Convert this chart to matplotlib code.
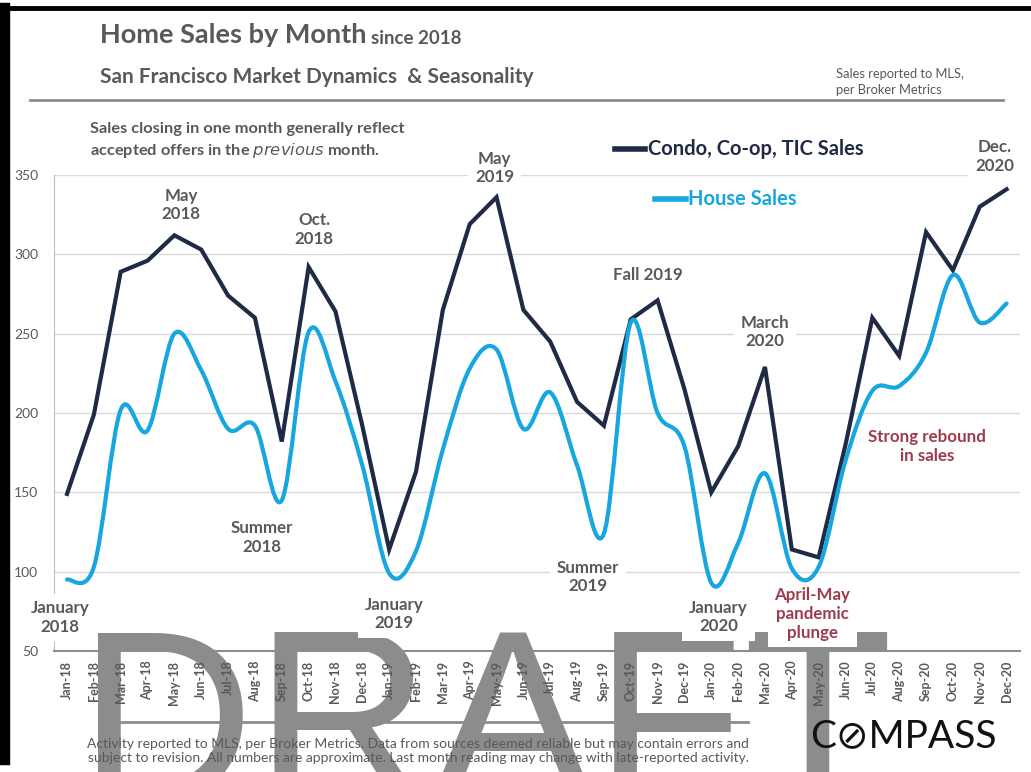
import numpy as np
import matplotlib
matplotlib.use("Agg")
import matplotlib.pyplot as plt
from matplotlib.path import Path
from matplotlib.patches import PathPatch
from matplotlib.lines import Line2D

plt.rcParams['font.family'] = ['Lato', 'DejaVu Sans']

# monthly closed sales, Jan-18 .. Dec-20
months = ["Jan-18", "Feb-18", "Mar-18", "Apr-18", "May-18", "Jun-18", "Jul-18", "Aug-18",
          "Sep-18", "Oct-18", "Nov-18", "Dec-18", "Jan-19", "Feb-19", "Mar-19", "Apr-19",
          "May-19", "Jun-19", "Jul-19", "Aug-19", "Sep-19", "Oct-19", "Nov-19", "Dec-19",
          "Jan-20", "Feb-20", "Mar-20", "Apr-20", "May-20", "Jun-20", "Jul-20", "Aug-20",
          "Sep-20", "Oct-20", "Nov-20", "Dec-20"]
condo_sales = [149, 199, 289, 296, 312, 303, 274, 260, 182, 292, 264, 192,
               114, 163, 265, 319, 336, 265, 245, 207, 192, 259, 271, 215,
               150, 179, 229, 114, 109, 180, 260, 236, 314, 290, 330, 341]
house_sales = [95, 103, 202, 189, 250, 227, 190, 192, 145, 251, 220, 167,
               99, 113, 177, 228, 240, 190, 213, 167, 124, 257, 200, 179,
               93, 118, 162, 102, 103, 170, 214, 217, 238, 287, 257, 269]
y_ticks = [50, 100, 150, 200, 250, 300, 350]

NAVY = '#1f2a44'
CYAN = '#17a6e0'
GRAY = '#595959'
RED = '#9c3b4d'


def smooth_path(xs, ys):
    # Bezier curve through every point, same kind of smoothing as a spreadsheet "smoothed line"
    pts = np.column_stack([xs, ys]).astype(float)
    n = len(pts)
    verts = [pts[0]]
    codes = [Path.MOVETO]
    for i in range(n - 1):
        p0 = pts[i - 1] if i > 0 else pts[i]
        p1 = pts[i]
        p2 = pts[i + 1]
        p3 = pts[i + 2] if i + 2 < n else pts[i + 1]
        verts += [p1 + (p2 - p0) / 6, p2 - (p3 - p1) / 6, p2]
        codes += [Path.CURVE4] * 3
    return Path(verts, codes)


W, H = 1031, 772
fig = plt.figure(figsize=(W / 100, H / 100), dpi=100)
fig.patch.set_facecolor('white')

# frame bits of the slide
fig.add_artist(Line2D([8 / W, 1], [1 - 8 / H, 1 - 8 / H], color='black', lw=3.5))
fig.add_artist(Line2D([5 / W, 5 / W], [0.015, 1 - 8 / H], color='black', lw=7.5))
fig.add_artist(Line2D([30 / W, 1003 / W], [1 - 100 / H, 1 - 100 / H], color='#8c8c8c', lw=2))
fig.add_artist(Line2D([105 / W, 748 / W], [1 - 722 / H, 1 - 722 / H], color='#8c8c8c', lw=2))

fig.text(100 / W, 1 - 35 / H, "Home Sales by Month", fontsize=19.5, fontweight='bold',
         color=GRAY, va='center', ha='left')
fig.text(371 / W, 1 - 38 / H, "since 2018", fontsize=13.5, fontweight='bold',
         color=GRAY, va='center', ha='left')
fig.text(100 / W, 1 - 77 / H, "San Francisco Market Dynamics  & Seasonality", fontsize=15,
         fontweight='bold', color=GRAY, va='center', ha='left')
fig.text(836 / W, 1 - 82 / H, "Sales reported to MLS,\nper Broker Metrics", fontsize=9.3,
         color=GRAY, va='center', ha='left', linespacing=1.3)

fig.text(90 / W, 1 - 141 / H, "Sales closing in one month generally reflect\n"
         "accepted offers in the $\\it{previous}$ month.", fontsize=11.8, fontweight='bold',
         color=GRAY, va='center', ha='left', linespacing=1.3)

fig.text(418 / W, 1 - 751 / H,
         "Activity reported to MLS, per Broker Metrics. Data from sources deemed reliable but may contain errors and\n"
         "subject to revision. All numbers are approximate. Last month reading may change with late-reported activity.",
         fontsize=10, color=GRAY, va='center', ha='center', linespacing=1.25, zorder=5)

fig.text(903 / W, 1 - 736 / H, "C\u2298MPASS", fontsize=28, color='#111111',
         va='center', ha='center', zorder=5)

# watermark sits under everything else
fig.text(78 / W, 1 - 800 / H, "DRAFT", fontsize=176, color='#8c8c8c',
         family='Liberation Sans', va='baseline', ha='left', zorder=-5)

ax = fig.add_axes([53.6 / W, 1 - 651 / H, (1020 - 53.6) / W, (651 - 175) / H])
ax.patch.set_alpha(0)
x = np.arange(len(months))

ax.plot(x, condo_sales, color=NAVY, lw=3, zorder=4, solid_joinstyle='miter')
ax.add_patch(PathPatch(smooth_path(x, house_sales), fill=False, edgecolor=CYAN,
                       lw=3, zorder=4, capstyle='round'))

ax.set_xlim(-0.5, len(months) - 0.5)
ax.set_ylim(50, 350)
ax.set_yticks(y_ticks)
ax.set_xticks(x)
ax.set_xticklabels(months, rotation=90, fontsize=9, color=GRAY, fontweight='bold')
ax.tick_params(axis='y', length=0, pad=11, labelsize=10, labelcolor=GRAY)
ax.tick_params(axis='x', length=0, pad=7)
ax.yaxis.grid(True, color='#d9d9d9', lw=1)
ax.set_axisbelow(True)
for s in ['top', 'right']:
    ax.spines[s].set_visible(False)
ax.spines['left'].set_color('#bfbfbf')
ax.spines['bottom'].set_color('#8c8c8c')
ax.spines['bottom'].set_linewidth(1.5)

# period call-outs, white boxes knock out the gridlines behind them
box = dict(boxstyle='square,pad=0.4', fc='white', ec='none')
notes = [
    ("May\n2018", 4.24, 331, GRAY),
    ("Oct.\n2018", 9.2, 315.7, GRAY),
    ("May\n2019", 15.93, 354.5, GRAY),
    ("Fall 2019", 21.63, 287, GRAY),
    ("March\n2020", 25.99, 251, GRAY),
    ("Dec.\n2020", 34.55, 361.5, GRAY),
    ("January\n2018", -0.26, 71, GRAY),
    ("Summer\n2018", 7.26, 121.6, GRAY),
    ("January\n2019", 12.17, 73.3, GRAY),
    ("Summer\n2019", 19.4, 96.7, GRAY),
    ("January\n2020", 24.27, 71.4, GRAY),
    ("April-May\npandemic\nplunge", 27.77, 73.3, RED),
    ("Strong rebound\nin sales", 32.05, 179, RED),
]
for txt, nx, ny, c in notes:
    ax.text(nx, ny, txt, ha='center', va='center', fontsize=12.2, fontweight='bold',
            color=c, linespacing=1.2, bbox=box, zorder=3, clip_on=False)

# legend entries placed by hand
fig.add_artist(Line2D([615 / W, 645 / W], [1 - 149 / H] * 2, color=NAVY, lw=4))
fig.text(648 / W, 1 - 149 / H, "Condo, Co-op, TIC Sales", fontsize=14.5, fontweight='bold',
         color=NAVY, va='center', ha='left')
fig.add_artist(Line2D([655 / W, 686 / W], [1 - 199 / H] * 2, color=CYAN, lw=4))
fig.text(688 / W, 1 - 199 / H, "House Sales", fontsize=14.5, fontweight='bold',
         color=CYAN, va='center', ha='left')

fig.savefig("out.png", dpi=100)
